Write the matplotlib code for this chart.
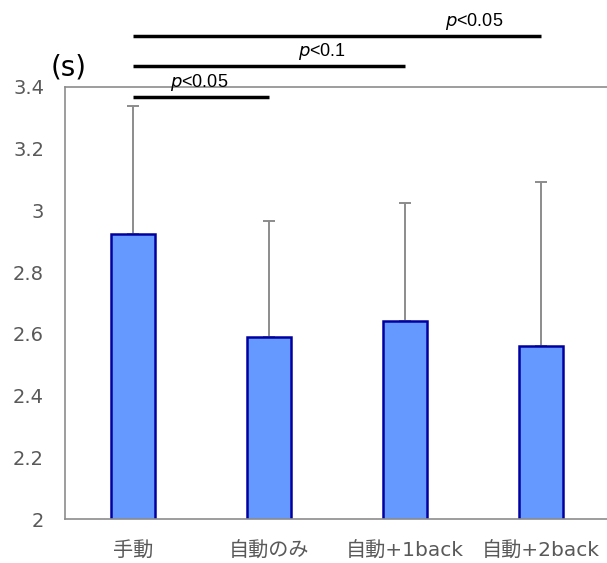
import matplotlib
matplotlib.use("Agg")
import matplotlib.pyplot as plt

plt.rcParams["font.family"] = ["DejaVu Sans", "Noto Sans CJK JP"]

# Mean reaction time per condition and the upper error (SD)
conditions = ["手動", "自動のみ", "自動+1back", "自動+2back"]
means = [2.924, 2.590, 2.642, 2.561]
errors = [0.414, 0.376, 0.382, 0.531]
y_ticks = [2, 2.2, 2.4, 2.6, 2.8, 3, 3.2, 3.4]
y_tick_labels = ["2", "2.2", "2.4", "2.6", "2.8", "3", "3.2", "3.4"]

# Significance brackets: (from index, to index), height, label
sig_pairs = [(0, 1), (0, 2), (0, 3)]
sig_heights = [3.367, 3.468, 3.565]
sig_labels = ["0.05", "0.1", "0.05"]
sig_text_x = [0.49, 1.39, 2.51]

fig = plt.figure(figsize=(6.07, 5.63), dpi=100)
ax = fig.add_axes([0.107, 0.078, 0.896, 0.7675])

x = list(range(len(conditions)))
ax.bar(x, means, width=0.32, color="#6699ff", edgecolor="#0000a0",
       linewidth=1.8, zorder=2)
ax.errorbar(x, means, yerr=[[0] * len(errors), errors], fmt="none",
            ecolor="#8c8c8c", elinewidth=1.4, capsize=4, capthick=1.4, zorder=1)

ax.set_xlim(-0.5, 3.5)
ax.set_ylim(2, 3.4)
ax.set_yticks(y_ticks)
ax.set_yticklabels(y_tick_labels)
ax.set_xticks(x)
ax.set_xticklabels(conditions)
ax.tick_params(axis="both", length=0, colors="#595959")
ax.tick_params(axis="y", labelsize=14, pad=15)
ax.tick_params(axis="x", labelsize=14.5, pad=16)

for side in ["left", "top", "bottom"]:
    ax.spines[side].set_color("#8c8c8c")
    ax.spines[side].set_linewidth(1.2)
ax.spines["right"].set_visible(False)

for (i, j), h, lab, tx in zip(sig_pairs, sig_heights, sig_labels, sig_text_x):
    ax.plot([i, j], [h, h], color="black", linewidth=2.5, clip_on=False,
            solid_capstyle="butt")
    ax.text(tx, h + 0.014, r"$p$<" + lab, ha="center", va="bottom",
            fontsize=13, family="Liberation Sans", clip_on=False)

ax.text(-0.47, 3.418, "(s)", ha="center", va="bottom", fontsize=20)

fig.savefig("out.png", dpi=100)
